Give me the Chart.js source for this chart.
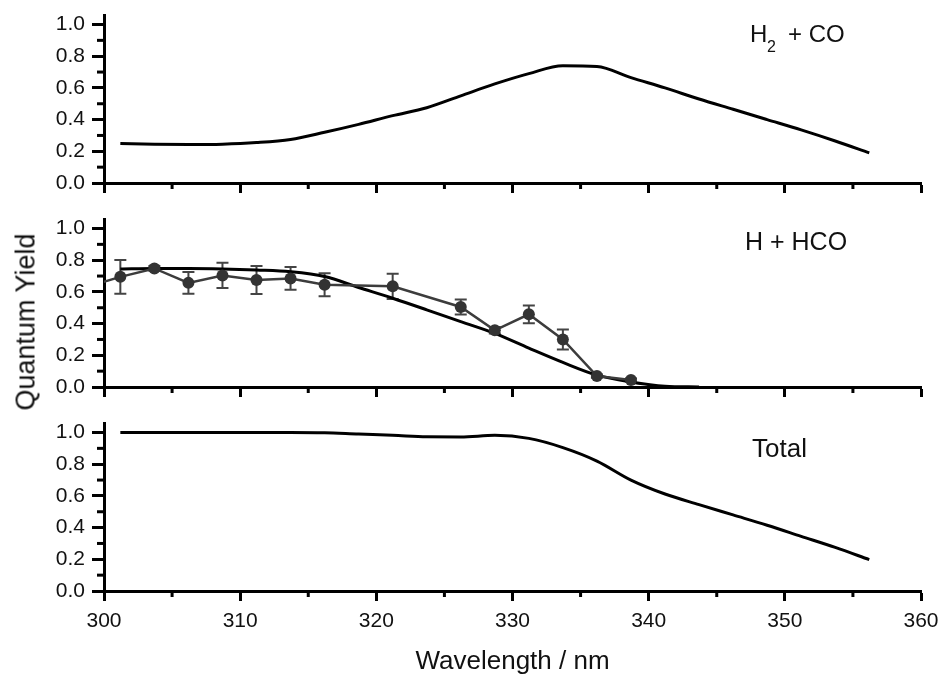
<!DOCTYPE html>
<html>
<head>
<meta charset="utf-8">
<script src="https://cdn.jsdelivr.net/npm/chart.js@4.4.0/dist/chart.umd.min.js"></script>
<style>
  html, body { margin: 0; padding: 0; background: #fff; overflow: hidden; }
  #wrap { position: relative; width: 941px; height: 677px; overflow: hidden; font-family: "Liberation Sans", Arial, sans-serif; }
  canvas { position: absolute; left: 0; }
  #ylab {
    position: absolute; left: 26px; top: 322px;
    transform: translate(-50%, -50%) rotate(-90deg);
    font-size: 27px; line-height: 1; white-space: nowrap; color: #111;
  }
</style>
</head>
<body>
<div id="wrap">
  <canvas id="p1" width="960" height="218" style="top:-10px"></canvas>
  <canvas id="p2" width="960" height="218" style="top:194px"></canvas>
  <canvas id="p3" width="960" height="279" style="top:398px"></canvas>
  <div id="ylab">Quantum Yield</div>
</div>
<script>
// wavelength grid of the smooth curves (nm)
const wavelengths = [301.2, 303.7, 306.2, 308.7, 311.2, 313.7, 316.2, 318.7, 321.2, 323.7, 326.2, 328.7,
                     331.2, 333.7, 336.2, 338.7, 341.2, 343.7, 346.2, 348.7, 351.2, 353.7, 356.2];
const h2coYield = [0.25, 0.245, 0.243, 0.245, 0.255, 0.275, 0.32, 0.37, 0.425, 0.475, 0.55, 0.625,
                   0.69, 0.74, 0.735, 0.665, 0.60, 0.53, 0.465, 0.40, 0.335, 0.265, 0.19];
const hhcoFit = [0.745, 0.748, 0.748, 0.745, 0.738, 0.727, 0.697, 0.628, 0.56, 0.487, 0.412, 0.338,
                 0.245, 0.155, 0.075, 0.032, 0.005, 0.0];
const totalYield = [1.0, 1.0, 1.0, 1.0, 1.0, 1.0, 0.998, 0.99, 0.983, 0.973, 0.972, 0.982,
                    0.963, 0.905, 0.82, 0.70, 0.612, 0.545, 0.48, 0.415, 0.345, 0.275, 0.198];

// measured H + HCO points with error bars
const measWl = [298.7, 301.2, 303.7, 306.2, 308.7, 311.2, 313.7, 316.2, 321.2, 326.2, 328.7, 331.2, 333.7, 336.2, 338.7];
const measYield = [0.63, 0.695, 0.748, 0.657, 0.704, 0.675, 0.685, 0.645, 0.635, 0.505, 0.358, 0.459, 0.30, 0.069, 0.044];
const measErr = [0.08, 0.107, 0.015, 0.068, 0.08, 0.088, 0.072, 0.072, 0.08, 0.047, 0.02, 0.056, 0.063, 0.01, 0.01];

const FONT = '"Liberation Sans", Arial, sans-serif';
const TEXT = '#111';

const xy = (xs, ys) => ys.map((y, i) => ({ x: xs[i], y }));
const isMajorX = v => Math.round(v) % 10 === 0;
const isMajorY = v => Math.round(v * 10) % 2 === 0;

// short minor ticks, Chart.js has no minor tick option
const minorTicks = {
  id: 'minorTicks',
  afterDraw(chart) {
    const { ctx, chartArea: a, scales: { x, y } } = chart;
    ctx.save();
    ctx.strokeStyle = '#000';
    ctx.lineWidth = 3;
    x.ticks.forEach(t => {
      if (isMajorX(t.value)) return;
      const px = x.getPixelForValue(t.value);
      ctx.beginPath(); ctx.moveTo(px, a.bottom); ctx.lineTo(px, a.bottom + 6); ctx.stroke();
    });
    y.ticks.forEach(t => {
      if (isMajorY(t.value)) return;
      const py = y.getPixelForValue(t.value);
      ctx.beginPath(); ctx.moveTo(a.left, py); ctx.lineTo(a.left - 7, py); ctx.stroke();
    });
    ctx.restore();
  }
};

const errorBars = {
  id: 'errorBars',
  beforeDatasetsDraw(chart) {
    const { ctx, chartArea: a, scales: { x, y } } = chart;
    ctx.save();
    ctx.beginPath(); ctx.rect(a.left, a.top, a.right - a.left, a.bottom - a.top); ctx.clip();
    ctx.strokeStyle = '#444';
    ctx.lineWidth = 2;
    chart.data.datasets.forEach(ds => {
      if (!ds.errors) return;
      ds.data.forEach((p, i) => {
        const e = ds.errors[i];
        const px = x.getPixelForValue(p.x);
        const top = y.getPixelForValue(p.y + e);
        const bot = y.getPixelForValue(p.y - e);
        ctx.beginPath();
        ctx.moveTo(px, top); ctx.lineTo(px, bot);
        ctx.moveTo(px - 6, top); ctx.lineTo(px + 6, top);
        ctx.moveTo(px - 6, bot); ctx.lineTo(px + 6, bot);
        ctx.stroke();
      });
    });
    ctx.restore();
  }
};

const panelLabel = {
  id: 'panelLabel',
  afterDraw(chart, args, opts) {
    const ctx = chart.ctx;
    ctx.save();
    ctx.fillStyle = TEXT;
    ctx.textBaseline = 'alphabetic';
    (opts.parts || []).forEach(p => {
      ctx.font = p.size + 'px ' + FONT;
      ctx.fillText(p.text, p.x, p.y);
    });
    ctx.restore();
  }
};

// every canvas leaves 25px above the plot, 39px on the right
function makePanel(id, datasets, cfg) {
  return new Chart(document.getElementById(id), {
    type: 'line',
    data: { datasets },
    options: {
      responsive: false,
      animation: false,
      layout: { padding: { top: 25, right: 39, bottom: 0, left: 0 } },
      plugins: {
        legend: { display: false },
        tooltip: { enabled: false },
        panelLabel: { parts: cfg.label }
      },
      scales: {
        x: {
          type: 'linear', min: 300, max: 360,
          border: { display: true, width: 3, color: '#000' },
          grid: {
            drawOnChartArea: false, drawTicks: true, tickLength: 10, tickWidth: 3,
            tickColor: c => isMajorX(c.tick.value) ? '#000' : 'rgba(0,0,0,0)'
          },
          ticks: {
            stepSize: 5, autoSkip: false, maxRotation: 0, padding: 8, color: TEXT,
            font: { size: 21, family: FONT },
            callback: v => (cfg.showX && isMajorX(v)) ? String(v) : ''
          },
          title: {
            display: !!cfg.showX, text: 'Wavelength / nm', color: TEXT,
            font: { size: 26, family: FONT, lineHeight: 1 }, padding: { top: 0, bottom: 2 }
          },
          afterFit: s => { s.height = cfg.xHeight; }
        },
        y: {
          min: 0, max: 1.06,
          border: { display: true, width: 3, color: '#000' },
          grid: {
            drawOnChartArea: false, drawTicks: true, tickLength: 12, tickWidth: 3,
            tickColor: c => isMajorY(c.tick.value) ? '#000' : 'rgba(0,0,0,0)'
          },
          ticks: {
            stepSize: 0.1, includeBounds: false, autoSkip: false, padding: 7, color: TEXT,
            font: { size: 21, family: FONT },
            callback: v => isMajorY(v) ? v.toFixed(1) : ''
          },
          afterFit: s => { s.width = 104; }
        }
      }
    },
    plugins: [errorBars, minorTicks, panelLabel]
  });
}

const curve = (data) => ({
  data, borderColor: '#000', borderWidth: 3, pointRadius: 0,
  cubicInterpolationMode: 'monotone', fill: false
});

makePanel('p1', [curve(xy(wavelengths, h2coYield))], {
  xHeight: 25,
  label: [
    { text: 'H', x: 750, y: 52, size: 24 },
    { text: '2', x: 767, y: 62, size: 16 },
    { text: '+ CO', x: 788, y: 52, size: 24 }
  ]
});

makePanel('p2', [
  {
    data: xy(measWl, measYield), errors: measErr,
    borderColor: '#3c3c3c', borderWidth: 2.5, pointRadius: 6, pointBackgroundColor: '#333',
    pointBorderWidth: 0, tension: 0, fill: false
  },
  curve(xy(wavelengths, hhcoFit))
], {
  xHeight: 25,
  label: [{ text: 'H + HCO', x: 745, y: 56, size: 25 }]
});

makePanel('p3', [curve(xy(wavelengths, totalYield))], {
  xHeight: 86, showX: true,
  label: [{ text: 'Total', x: 752, y: 59, size: 26 }]
});
</script>
</body>
</html>
